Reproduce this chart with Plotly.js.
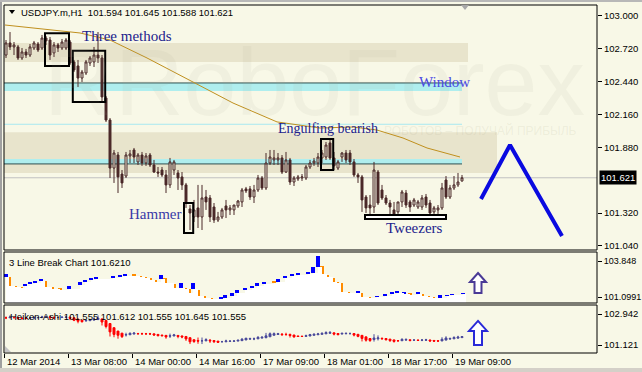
<!DOCTYPE html>
<html><head><meta charset="utf-8">
<script src="https://cdn.plot.ly/plotly-3.0.1.min.js"></script>
<style>
html,body{margin:0;padding:0;background:#f8f8e7;overflow:hidden}
#chart{position:absolute;left:0;top:0;width:642px;height:372px}
.fr{position:absolute;background:#a0a0a0}
</style></head><body>
<div id="chart"></div>
<div class="fr" style="left:0;top:0;width:2px;height:372px"></div>
<div class="fr" style="left:0;top:0;width:642px;height:2px;background:#b8b8b8"></div>
<div class="fr" style="left:0;top:368px;width:642px;height:4px;background:#d4d0c8"></div>
<script>
// ---- USDJPY.m H1 candles (12 Mar 16:00 -> 19 Mar 10:00) ----
const open = [102.667,102.770,102.736,102.736,102.642,102.693,102.667,102.727,102.761,102.727,
102.812,102.795,102.685,102.753,102.727,102.727,102.778,102.608,102.574,102.471,
102.514,102.599,102.608,102.667,102.642,102.301,102.113,101.704,101.815,101.653,
101.636,101.807,101.858,101.756,101.815,101.747,101.815,101.730,101.670,101.687,
101.645,101.560,101.687,101.662,101.628,101.560,101.355,101.287,101.364,101.287,
101.457,101.449,101.372,101.261,101.287,101.381,101.347,101.347,101.381,101.415,
101.526,101.526,101.457,101.517,101.619,101.534,101.747,101.773,101.773,101.790,
101.670,101.773,101.585,101.611,101.619,101.619,101.713,101.747,101.747,101.790,
101.798,101.918,101.790,101.704,101.798,101.832,101.832,101.756,101.645,101.628,
101.457,101.389,101.372,101.670,101.517,101.449,101.406,101.347,101.330,101.415,
101.491,101.415,101.389,101.372,101.372,101.457,101.406,101.330,101.347,101.364,
101.602,101.457,101.534,101.560,101.594];
const high = [102.795,102.863,102.778,102.753,102.727,102.719,102.761,102.787,102.778,102.838,
102.829,102.821,102.778,102.770,102.804,102.812,102.795,102.625,102.625,102.540,
102.625,102.659,102.736,102.863,102.667,102.318,102.130,101.858,101.841,101.687,
101.841,101.858,101.875,101.832,101.841,101.832,101.832,101.773,101.713,101.713,
101.687,101.790,101.773,101.687,101.670,101.577,101.389,101.432,101.560,101.560,
101.517,101.474,101.406,101.330,101.364,101.432,101.389,101.389,101.432,101.534,
101.543,101.551,101.560,101.645,101.636,101.832,101.858,101.858,101.832,101.815,
101.841,101.790,101.636,101.645,101.653,101.730,101.773,101.790,101.832,101.858,
101.926,101.943,101.841,101.773,101.841,101.858,101.858,101.781,101.662,101.645,
101.474,101.474,101.756,101.687,101.560,101.474,101.432,101.415,101.415,101.517,
101.517,101.432,101.449,101.432,101.474,101.483,101.432,101.381,101.389,101.577,
101.636,101.560,101.636,101.662,101.645];
const low = [102.642,102.710,102.667,102.625,102.625,102.642,102.650,102.710,102.693,102.710,
102.753,102.625,102.650,102.693,102.710,102.710,102.582,102.522,102.395,102.437,
102.497,102.574,102.565,102.599,102.267,102.096,101.619,101.577,101.491,101.534,
101.619,101.747,101.747,101.730,101.722,101.722,101.713,101.662,101.628,101.628,
101.491,101.534,101.645,101.517,101.517,101.364,101.176,101.244,101.193,101.176,
101.347,101.244,101.236,101.244,101.270,101.278,101.304,101.304,101.364,101.372,
101.491,101.432,101.406,101.500,101.517,101.517,101.730,101.730,101.730,101.653,
101.662,101.560,101.551,101.594,101.594,101.602,101.696,101.722,101.713,101.747,
101.773,101.773,101.687,101.687,101.756,101.747,101.730,101.628,101.577,101.330,
101.321,101.304,101.321,101.389,101.432,101.389,101.304,101.261,101.313,101.372,
101.364,101.330,101.372,101.355,101.347,101.364,101.295,101.313,101.313,101.347,
101.440,101.440,101.517,101.543,101.588];
const close = [102.770,102.736,102.753,102.642,102.693,102.667,102.736,102.770,102.710,102.812,
102.787,102.667,102.753,102.727,102.778,102.795,102.599,102.540,102.471,102.522,
102.608,102.642,102.667,102.642,102.310,102.113,101.704,101.832,101.628,101.577,
101.815,101.824,101.798,101.815,101.747,101.807,101.730,101.670,101.662,101.645,
101.560,101.756,101.756,101.619,101.560,101.415,101.321,101.347,101.287,101.449,
101.415,101.287,101.261,101.287,101.347,101.347,101.364,101.389,101.423,101.517,
101.509,101.457,101.517,101.619,101.534,101.747,101.798,101.790,101.790,101.670,
101.773,101.585,101.619,101.628,101.628,101.713,101.747,101.764,101.798,101.832,
101.900,101.790,101.722,101.756,101.832,101.773,101.756,101.645,101.628,101.432,
101.364,101.364,101.687,101.406,101.449,101.406,101.372,101.304,101.415,101.500,
101.389,101.372,101.432,101.415,101.449,101.389,101.321,101.364,101.364,101.534,
101.457,101.534,101.560,101.585,101.621];

// x-axis tick labels (bar index of each label)
const tickBars = [0,16,32,48,64,80,96,112];
const tickLabels = ["12 Mar 2014","13 Mar 08:00","14 Mar 00:00","14 Mar 16:00","17 Mar 09:00","18 Mar 01:00","18 Mar 17:00","19 Mar 09:00"];

// price axis ticks
const priceTicks = [101.040,101.320,101.880,102.160,102.440,102.720,103.000];
const lastPrice = 101.621;

// moving average (read at bar positions)
const maBar = [-0.25,18.5,26,35.25,46.75,56.75,67.75,78.5,86.75,92.75,99.25,105.25,113.5];
const maVal = [102.923,102.855,102.795,102.642,102.437,102.258,102.097,102.045,102.054,102.028,101.960,101.875,101.798];

// forecast zig-zag
const zzBar = [118.75,126,139];
const zzVal = [101.440,101.900,101.125];

// 3 Line Break Chart blocks
const lbBar = [0,0.75,2.25,3.75,4.75,6,7.25,8.75,9.75,11.5,13.5,15.75,18.5,19.75,21.25,22.5,26.75,28.5,29.75,
32,33.5,34.75,36,37.25,38.75,39.75,42,43.75,44.75,45.75,46.75,48,49.5,51.25,53.75,54.75,56.5,57.75,59.75,61.5,
62.75,64.5,67,68,69.75,71.5,73,75.5,76.75,78,79,80.25,81.75,82.75,83.75,85.5,88,88.75,90.75,92.75,94.75,96.5,
97.75,99.5,101,103,104,105.5,106.75,108.5,110.25,111.5,114.25];
const lbHigh = [102.855,102.626,101.939,101.863,102.092,102.245,102.321,102.474,102.321,101.863,101.786,101.939,102.245,102.397,102.550,102.626,102.703,102.779,102.855,
102.855,102.703,102.626,102.550,102.397,102.779,102.550,102.092,102.168,101.786,101.710,102.168,101.634,101.175,101.023,101.099,101.252,101.405,101.634,101.786,101.939,
102.168,102.245,102.321,102.474,102.703,102.855,102.932,103.008,103.390,104.230,103.466,102.779,102.550,102.245,102.168,101.481,101.557,101.405,101.099,101.175,101.328,101.481,
101.557,101.481,101.405,101.481,101.328,101.175,101.099,101.252,101.252,101.328,101.405];
const lbLow = [102.626,101.939,101.863,101.786,101.939,102.092,102.168,102.321,101.863,101.710,101.634,101.710,102.015,102.245,102.397,102.474,102.550,102.626,102.703,
102.703,102.626,102.550,102.397,102.245,102.474,102.168,101.786,101.786,101.710,101.405,101.710,101.175,101.023,100.946,100.946,101.023,101.175,101.405,101.634,101.786,
101.939,102.092,102.168,102.245,102.550,102.703,102.779,102.855,102.932,103.390,102.855,102.626,102.245,102.168,101.481,101.405,101.405,101.099,101.023,101.099,101.175,101.328,
101.405,101.328,101.252,101.328,101.175,101.099,101.023,101.023,101.175,101.252,101.328];
const lbUp = [1,0,0,0,1,1,1,1,0,0,0,1,1,1,1,1,1,1,1,
0,0,0,0,0,1,0,0,1,0,0,1,0,0,0,1,1,1,1,1,1,
1,1,0,1,1,1,1,1,1,1,0,0,0,0,0,0,1,0,0,1,1,1,
1,1,0,1,0,0,0,1,1,1,1];

// ---- layout helpers (pixel geometry of the MT4 window) ----
const L=4, R=597, T=5, B=353;
const px = v => (v-L)/(R-L);
const py = v => (B-v)/(B-T);
const bars = open.map((_, i) => i);

// Heiken-Ashi transform of the OHLC above
const haO=[],haC=[],haH=[],haL=[];
for(let i=0;i<open.length;i++){
  const c=(open[i]+high[i]+low[i]+close[i])/4;
  const o= i===0 ? (open[0]+close[0])/2 : (haO[i-1]+haC[i-1])/2;
  haO.push(o); haC.push(c);
  haH.push(Math.max(high[i],o,c)); haL.push(Math.min(low[i],o,c));
}

const BG='#f8f8e7', CANDLE='#4a2828';
const traces = [
  {type:'scatter', x:maBar, y:maVal, mode:'lines', line:{color:'#c0901e', width:1}, hoverinfo:'skip', xaxis:'x', yaxis:'y'},
  {type:'candlestick', x:bars, open:open, high:high, low:low, close:close, xaxis:'x', yaxis:'y',
   increasing:{line:{color:CANDLE,width:1}, fillcolor:BG},
   decreasing:{line:{color:CANDLE,width:1}, fillcolor:CANDLE}, hoverinfo:'skip'},
  {type:'scatter', x:zzBar, y:zzVal, mode:'lines', line:{color:'#0a0ae0', width:4}, hoverinfo:'skip', xaxis:'x', yaxis:'y'},
  {type:'scatter', x:lbBar.concat([115]), y:lbLow.concat([lbLow[lbLow.length-1]]), mode:'lines', line:{width:0, shape:'hv'},
   fill:'tozeroy', fillcolor:'#ffffff', hoverinfo:'skip', xaxis:'x', yaxis:'y2'},
  {type:'bar', x:lbBar, base:lbLow, y:lbHigh.map((h,i)=>h-lbLow[i]), width:0.95,
   marker:{color:lbUp.map(u=>u?'#0000ff':'#ff8c00'), line:{width:0}}, hoverinfo:'skip', xaxis:'x', yaxis:'y2'},
  {type:'candlestick', x:bars, open:haO, high:haH, low:haL, close:haC, xaxis:'x', yaxis:'y3',
   increasing:{line:{color:'#4b4b9b',width:1}, fillcolor:'#4b4b9b'},
   decreasing:{line:{color:'#ff0000',width:1}, fillcolor:'#ff0000'}, hoverinfo:'skip'}
];

const serif = (c,s)=>({family:'Liberation Serif', size:s||15, color:c});
const ann = [
  {xref:'paper', yref:'paper', x:px(78), y:py(82), text:'R', showarrow:false, xanchor:'center', yanchor:'middle',
   font:{family:'Liberation Sans', size:95, color:'rgba(170,170,140,0.09)'}},
  {xref:'paper', yref:'paper', x:px(350), y:py(82), text:'RoboForex', showarrow:false, xanchor:'center', yanchor:'middle',
   font:{family:'Liberation Sans', size:95, color:'rgba(170,170,140,0.09)'}},
  {xref:'paper', yref:'paper', x:px(382), y:py(130), text:'РОБОТОВ – ПОЛУЧАЙ ПРИБЫЛЬ', showarrow:false, xanchor:'left', yanchor:'middle',
   font:{family:'Liberation Sans', size:12, color:'rgba(170,170,140,0.15)'}},
  {xref:'paper', yref:'paper', x:px(19), y:py(13), text:'USDJPY.m,H1\u00a0\u00a0101.594 101.645 101.588 101.621', showarrow:false,
   xanchor:'left', yanchor:'middle', font:{size:9.5, color:'#000'}},
  {xref:'paper', yref:'paper', x:px(7), y:py(262), text:'3 Line Break Chart 101.6210', showarrow:false,
   xanchor:'left', yanchor:'middle', font:{size:9.5, color:'#000'}},
  {xref:'paper', yref:'paper', x:px(8), y:py(316), text:'Heiken-Ashi 101.555 101.612 101.555 101.645 101.555', showarrow:false,
   xanchor:'left', yanchor:'middle', font:{size:9.5, color:'#000'}},
  {xref:'x', yref:'y', x:18.5, y:102.829, text:'Three methods', showarrow:false, xanchor:'left', yanchor:'middle', font:serif('#22228c')},
  {xref:'x', yref:'y', x:102.75, y:102.437, text:'Window', showarrow:false, xanchor:'left', yanchor:'middle', font:serif('#4848e4')},
  {xref:'x', yref:'y', x:67.5, y:102.045, text:'Engulfing bearish', showarrow:false, xanchor:'left', yanchor:'middle', font:serif('#22228c',14)},
  {xref:'x', yref:'y', x:30.25, y:101.312, text:'Hammer', showarrow:false, xanchor:'left', yanchor:'middle', font:serif('#3a3aa8')},
  {xref:'x', yref:'y', x:94.5, y:101.193, text:'Tweezers', showarrow:false, xanchor:'left', yanchor:'middle', font:serif('#22228c')},
  {xref:'paper', yref:'y', x:px(599), y:lastPrice, text:'101.621', showarrow:false, xanchor:'left', yanchor:'middle',
   bgcolor:'#000', borderpad:1, font:{size:9.5, color:'#fff'}}
].concat(tickBars.map((b,i)=>({xref:'x', yref:'paper', x:b-0.3, y:py(361), text:tickLabels[i], showarrow:false,
   xanchor:'left', yanchor:'middle', font:{size:9.5, color:'#000'}})));

const rectD = (x0,x1,y0,y1,o)=>Object.assign({type:'rect', xref:'x', yref:'y', x0:x0, x1:x1, y0:y0, y1:y1}, o);
const hline = (y,x1,c,w)=>({type:'line', xref:'x', yref:'y', x0:-1, x1:x1, y0:y, y1:y, line:{color:c, width:w}, layer:'below'});
const shapes = [
  rectD(-1,115.5,102.608,102.770,{fillcolor:'#e8e4cc', line:{width:0}, layer:'below'}),
  rectD(-1,122.75,101.662,102.009,{fillcolor:'#e8e4cc', line:{width:0}, layer:'below'}),
  rectD(-1,114,102.361,102.429,{fillcolor:'#afeeee', line:{width:0}, layer:'below'}),
  rectD(-1,114,101.739,101.781,{fillcolor:'#afeeee', line:{width:0}, layer:'below'}),
  hline(102.429,114,'#2f4f4f',1),
  hline(101.739,114,'#2f4f4f',1),
  hline(102.077,114,'#a8e8f0',1),
  {type:'line', xref:'paper', yref:'y', x0:0, x1:1, y0:lastPrice, y1:lastPrice, line:{color:'#c0c0c0', width:1}, layer:'below'},
  rectD(9.75,15.75,102.574,102.852,{line:{color:'#000', width:2}, layer:'above'}),
  rectD(16.7,24.8,102.267,102.704,{line:{color:'#000', width:2}, layer:'above'}),
  rectD(44.5,46.8,101.151,101.406,{line:{color:'#000', width:2}, layer:'above'}),
  rectD(78.75,81.8,101.687,101.952,{line:{color:'#000', width:2}, layer:'above'}),
  rectD(89.75,110,101.270,101.304,{fillcolor:'#ffffff', line:{color:'#000', width:2}, layer:'above'}),
  // panel frames
  {type:'rect', xref:'paper', yref:'paper', x0:0, x1:1, y0:py(250), y1:1, line:{color:'#000', width:1}},
  {type:'rect', xref:'paper', yref:'paper', x0:0, x1:1, y0:py(303), y1:py(252), line:{color:'#000', width:1}},
  {type:'rect', xref:'paper', yref:'paper', x0:0, x1:1, y0:0, y1:py(305), line:{color:'#000', width:1}},
  // small markers
  {type:'path', xref:'paper', yref:'paper', path:`M${px(9)},${py(10)} L${px(15)},${py(10)} L${px(12)},${py(14)} Z`, fillcolor:'#000', line:{width:0}},
  {type:'path', xref:'paper', yref:'paper', path:`M${px(461)},${py(5)} L${px(469)},${py(5)} L${px(465)},${py(10)} Z`, fillcolor:'#a8a8a8', line:{width:0}},
  {type:'path', xref:'paper', yref:'paper', path:`M${px(5)},${py(352)} L${px(11)},${py(352)} L${px(5)},${py(346)} Z`, fillcolor:'#c4c4c4', line:{width:0}},
  // up arrows
  {type:'path', xref:'x', yref:'y2', xsizemode:'pixel', ysizemode:'pixel', xanchor:118, yanchor:102.17,
   path:'M0,10 L8,1 L3.5,1 L3.5,-10 L-3.5,-10 L-3.5,1 L-8,1 Z', fillcolor:'#ffffff', line:{color:'#4a3a96', width:2}},
  {type:'path', xref:'x', yref:'y3', xsizemode:'pixel', ysizemode:'pixel', xanchor:118, yanchor:101.83,
   path:'M0,12 L9,2 L4,2 L4,-12 L-4,-12 L-4,2 L-9,2 Z', fillcolor:'#ffffff', line:{color:'#2a2ad8', width:2}}
];

const yBase = {side:'right', anchor:'x', showgrid:false, zeroline:false, ticks:'outside', ticklen:4, tickcolor:'#000',
  tickfont:{size:9.5, color:'#000'}, showline:false, fixedrange:true};
const layout = {
  width:642, height:372, margin:{l:L, r:642-R, t:T, b:372-B}, showlegend:false,
  paper_bgcolor:BG, plot_bgcolor:BG, font:{family:'Liberation Sans', size:9.5, color:'#000'},
  xaxis:{range:[-0.5,147.75], anchor:'y3', showgrid:false, zeroline:false, rangeslider:{visible:false},
    tickvals:tickBars.map(b=>b-0.3), ticks:'outside', ticklen:4, tickcolor:'#000', showticklabels:false, showline:false},
  yaxis:Object.assign({}, yBase, {domain:[py(250),1], range:[101.0055,103.0934],
    tickvals:priceTicks, ticktext:priceTicks.map(v=>v.toFixed(3))}),
  yaxis2:Object.assign({}, yBase, {domain:[py(303),py(252)], range:[100.641,104.535], tickfont:{size:9, color:'#000'},
    tickvals:[101.0991,103.848], ticktext:['101.0991','103.848']}),
  yaxis3:Object.assign({}, yBase, {domain:[0,py(305)], range:[100.651,103.471],
    tickvals:[101.121,102.942], ticktext:['101.121','102.942']}),
  shapes:shapes, annotations:ann, bargap:0
};
Plotly.newPlot('chart', traces, layout, {staticPlot:true, displayModeBar:false});
</script></body></html>
